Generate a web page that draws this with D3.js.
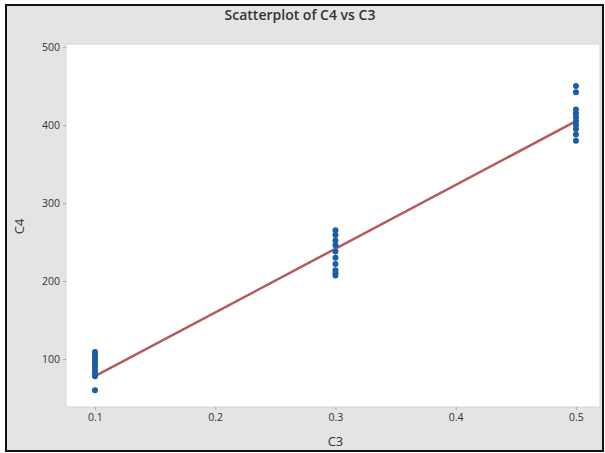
<!DOCTYPE html>
<html lang="en">
<head>
  <meta charset="utf-8">
  <title>Scatterplot of C4 vs C3</title>
  <script src="https://d3js.org/d3.v7.min.js"></script>
  <style>
  body { margin: 0; background: #fff; }
  svg text { font-family: "Open Sans", sans-serif; fill: #333; }
  .tick text { font-size: 10.5px; }
  </style>
</head>
<body>
<script>

// values
var c3Levels = [0.1, 0.3, 0.5];
var c4At01 = [60, 78, 82, 86, 90, 94, 98, 102, 106, 109];
var c4At03 = [207, 210, 214, 222, 230, 238, 246, 252, 259, 265];
var c4At05 = [380, 388, 395, 400, 405, 410, 415, 420, 442, 450];
var fitLine = [-3.75, 817.5];   // intercept, slope of the fitted line
var xTicks = [0.1, 0.2, 0.3, 0.4, 0.5];
var yTicks = [100, 200, 300, 400, 500];

var width = 605, height = 453;
var margin = {top: 44, right: 5, bottom: 46, left: 66};

var points = [];
[c4At01, c4At03, c4At05].forEach(function(col, i) {
  col.forEach(function(v) { points.push({x: c3Levels[i], y: v}); });
});

var x = d3.scaleLinear()
    .domain([0.0759, 0.52])
    .range([margin.left, width - margin.right]);

var y = d3.scaleLinear()
    .domain([38.5, 504])
    .range([height - margin.bottom, margin.top]);

var svg = d3.select("body").append("svg")
    .attr("width", width)
    .attr("height", height);

// gray background + frame
svg.append("rect")
    .attr("x", 0).attr("y", 0)
    .attr("width", width).attr("height", height)
    .attr("fill", "#fff");
svg.append("rect")
    .attr("x", 6).attr("y", 5)
    .attr("width", width - 8).attr("height", height - 7)
    .attr("fill", "#e4e4e4")
    .attr("stroke", "#111")
    .attr("stroke-width", 2);

// plot area
svg.append("rect")
    .attr("x", margin.left).attr("y", margin.top)
    .attr("width", width - margin.right - margin.left)
    .attr("height", height - margin.bottom - margin.top)
    .attr("fill", "#fff")
    .attr("stroke", "#d4d4d4");

var xAxis = svg.append("g")
    .attr("transform", "translate(0," + (height - margin.bottom) + ")")
    .call(d3.axisBottom(x).tickValues(xTicks).tickSize(3).tickPadding(4).tickFormat(d3.format(".1f")));

var yAxis = svg.append("g")
    .attr("transform", "translate(" + margin.left + ",0)")
    .call(d3.axisLeft(y).tickValues(yTicks).tickSize(3).tickPadding(3));

[xAxis, yAxis].forEach(function(a) {
  a.select(".domain").remove();
  a.selectAll(".tick line").attr("stroke", "#aaa");
  a.selectAll(".tick text").attr("fill", "#333");
});

// fitted line
svg.append("line")
    .attr("x1", x(c3Levels[0]))
    .attr("y1", y(fitLine[0] + fitLine[1] * c3Levels[0]))
    .attr("x2", x(c3Levels[2]))
    .attr("y2", y(fitLine[0] + fitLine[1] * c3Levels[2]))
    .attr("stroke", "#b65a5e")
    .attr("stroke-width", 2.5);

// points
svg.append("g").selectAll("circle")
    .data(points)
  .enter().append("circle")
    .attr("cx", function(d) { return x(d.x); })
    .attr("cy", function(d) { return y(d.y); })
    .attr("r", 3)
    .attr("fill", "#1a5ca8");

// titles
svg.append("text")
    .attr("x", 300).attr("y", 20)
    .attr("text-anchor", "middle")
    .style("font-size", "14px")
    .style("font-weight", 600)
    .text("Scatterplot of C4 vs C3");

svg.append("text")
    .attr("x", x(0.3)).attr("y", 446)
    .attr("text-anchor", "middle")
    .style("font-size", "13px")
    .text("C3");

svg.append("text")
    .attr("transform", "translate(24," + y(270) + ") rotate(-90)")
    .attr("text-anchor", "middle")
    .style("font-size", "13px")
    .text("C4");

</script>
</body>
</html>
